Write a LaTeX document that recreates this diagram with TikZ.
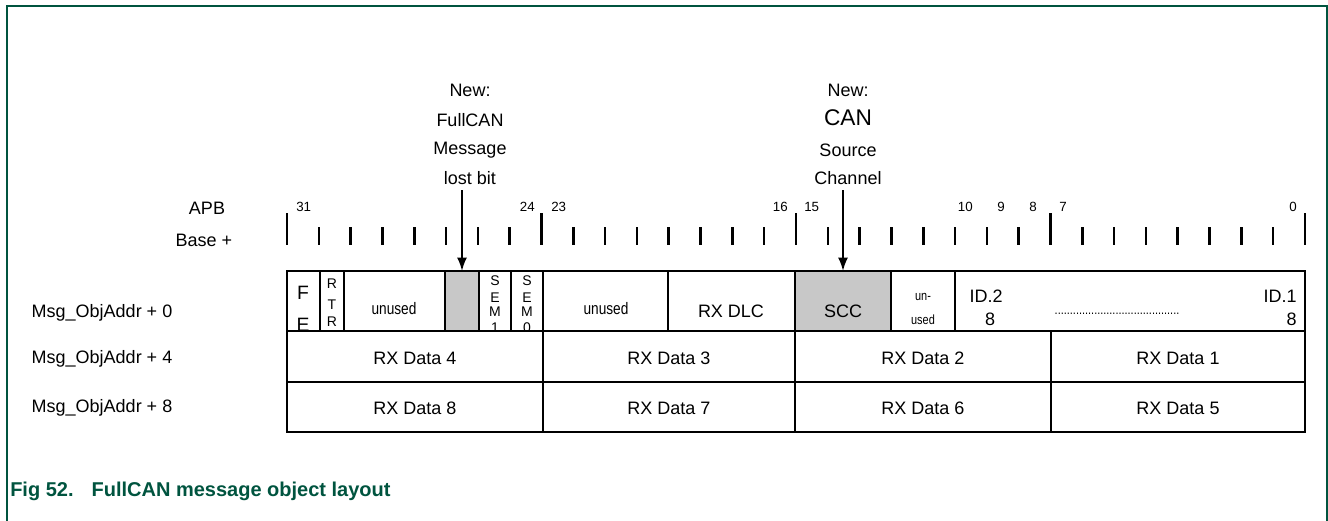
\documentclass[tikz,border=0pt]{standalone}
\usepackage{fontspec}
\setmainfont{Liberation Sans}
\newfontfamily\narrowfont{Liberation Sans}[FakeStretch=0.82]
\usetikzlibrary{arrows.meta}
\definecolor{nxpgreen}{HTML}{00543F}
\definecolor{cellgray}{HTML}{C8C8C8}
\begin{document}
\begin{tikzpicture}[x=0.75pt,y=-0.75pt,
  frame/.style={draw=nxpgreen,line width=1.1pt},
  tbl/.style={draw=black,line width=1.5pt},
  tick/.style={draw=black,line width=1.9pt},
  arr/.style={draw=black,line width=1.5pt,-{Latex[length=10pt,width=7.5pt]}},
  lbl/.style={inner sep=0pt,font=\fontsize{13.5}{15}\selectfont},
  bitnum/.style={inner sep=0pt,font=\fontsize{10}{12}\selectfont},
  stack/.style={inner sep=0pt,font=\fontsize{10.5}{12}\selectfont},
  narrow/.style={inner sep=0pt,font=\narrowfont\fontsize{12.5}{14}\selectfont},
  narrowsm/.style={inner sep=0pt,font=\narrowfont\fontsize{10}{12}\selectfont},
  captext/.style={inner sep=0pt,font=\fontsize{15}{17}\selectfont\bfseries,text=nxpgreen,anchor=west}]
\useasboundingbox (0,0) rectangle (1328,521);
% frame
\draw[frame] (7,521) -- (7,6) -- (1327,6) -- (1327,521);

% top annotations
\node[lbl] (n1a) at (470,90) {New:};
\node[lbl] (n1b) at (470,120) {FullCAN};
\node[lbl] (n1c) at (470,150) {Message};
\node[lbl] (n1d) at (470,178) {lost bit};
\node[lbl] (n2a) at (848,90) {New:};
\node[lbl,font=\fontsize{17}{19}\selectfont] (n2b) at (848,118) {CAN};
\node[lbl] (n2c) at (848,150) {Source};
\node[lbl] (n2d) at (848,178) {Channel};

% left labels
\node[lbl] (apb) at (207,208) {APB};
\node[lbl] (base) at (204,240) {Base +};
\node[lbl] (r0) at (102,313) {Msg\_ObjAddr + 0};
\node[lbl] (r1) at (102,359) {Msg\_ObjAddr + 4};
\node[lbl] (r2) at (102,408) {Msg\_ObjAddr + 8};

% ticks
\foreach \i in {0,...,32}{
  \pgfmathsetmacro{\xx}{287+\i*31.8125}
  \pgfmathtruncatemacro{\m}{mod(\i,8)}
  \ifnum\m=0
    \draw[tick] (\xx,213) -- (\xx,245);
  \else
    \draw[tick] (\xx,227) -- (\xx,245);
  \fi
}
% bit numbers
\node[bitnum,anchor=west] (b31) at (296,207) {31};
\node[bitnum,anchor=east] (b24) at (535,207) {24};
\node[bitnum,anchor=west] (b23) at (551,207) {23};
\node[bitnum,anchor=east] (b16) at (788,207) {16};
\node[bitnum,anchor=west] (b15) at (804,207) {15};
\node[bitnum,anchor=east] (b10) at (973,207) {10};
\node[bitnum,anchor=east] (b9) at (1005,207) {9};
\node[bitnum,anchor=east] (b8) at (1037,207) {8};
\node[bitnum,anchor=west] (b7) at (1059,207) {7};
\node[bitnum,anchor=east] (b0) at (1297,207) {0};

% row 0 cells
\fill[cellgray] (445,271) rectangle (479,331);
\fill[cellgray] (795,271) rectangle (891,331);
\draw[tbl] (287,271) rectangle (1305,331);
\foreach \x in {320,344,445,479,511,543,668,795,891,955}
  \draw[tbl] (\x,271) -- (\x,331);
% rows 1,2
\draw[tbl] (287,331) rectangle (1305,382);
\draw[tbl] (287,382) rectangle (1305,432);
\foreach \x in {543,795,1051}
  \draw[tbl] (\x,331) -- (\x,432);

% row 0 texts (clipped stacks)
\begin{scope}
\clip (287,271) rectangle (320,330);
\node[lbl,font=\fontsize{14.5}{17}\selectfont] (cF) at (303,293) {F};
\node[lbl,font=\fontsize{14.5}{17}\selectfont] at (303,325) {E};
\end{scope}
\begin{scope}
\clip (320,271) rectangle (344,330);
\node[stack] (cR) at (332,284) {R};
\node[stack] at (332,304.5) {T};
\node[stack] at (332,321.5) {R};
\end{scope}
\begin{scope}
\clip (479,271) rectangle (511,330);
\node[stack] (cS1) at (495,281) {S};
\node[stack] at (495,297.5) {E};
\node[stack] at (495,311.5) {M};
\node[stack] at (495,328) {1};
\end{scope}
\begin{scope}
\clip (511,271) rectangle (543,330);
\node[stack] (cS0) at (527,281) {S};
\node[stack] at (527,297.5) {E};
\node[stack] at (527,311.5) {M};
\node[stack] at (527,328) {0};
\end{scope}
\node[narrow] (u1) at (394,309) {unused};
\node[narrow] (u2) at (606,309) {unused};
\node[lbl] (dlc) at (731,311) {RX DLC};
\node[lbl] (scc) at (843,311) {SCC};
\node[narrowsm] (un) at (923,297) {un-};
\node[narrowsm] at (923,320) {used};
\node[lbl] (id28) at (986,296) {ID.2};
\node[lbl] at (990,319) {8};
\node[lbl,anchor=east] (id18) at (1297,296) {ID.1};
\node[lbl,anchor=east] at (1297,319) {8};
\node[narrowsm] (dots) at (1117,314) {.........................................};

% data rows
\node[lbl] (d4) at (415,358) {RX Data 4};
\node[lbl] (d3) at (669,358) {RX Data 3};
\node[lbl] (d2) at (923,358) {RX Data 2};
\node[lbl] (d1) at (1178,358) {RX Data 1};
\node[lbl] (d8) at (415,408) {RX Data 8};
\node[lbl] (d7) at (669,408) {RX Data 7};
\node[lbl] (d6) at (923,408) {RX Data 6};
\node[lbl] (d5) at (1178,408) {RX Data 5};

% arrows
\coordinate (a1s) at (462,190);
\coordinate (a1e) at (462,271);
\coordinate (a2s) at (843,190);
\coordinate (a2e) at (843,271);
\draw[arr] (a1s) -- (a1e);
\draw[arr] (a2s) -- (a2e);

% caption
\node[captext] (caption) at (10,491) {Fig 52.\hspace{0.9em}FullCAN message object layout};
\end{tikzpicture}
\end{document}
